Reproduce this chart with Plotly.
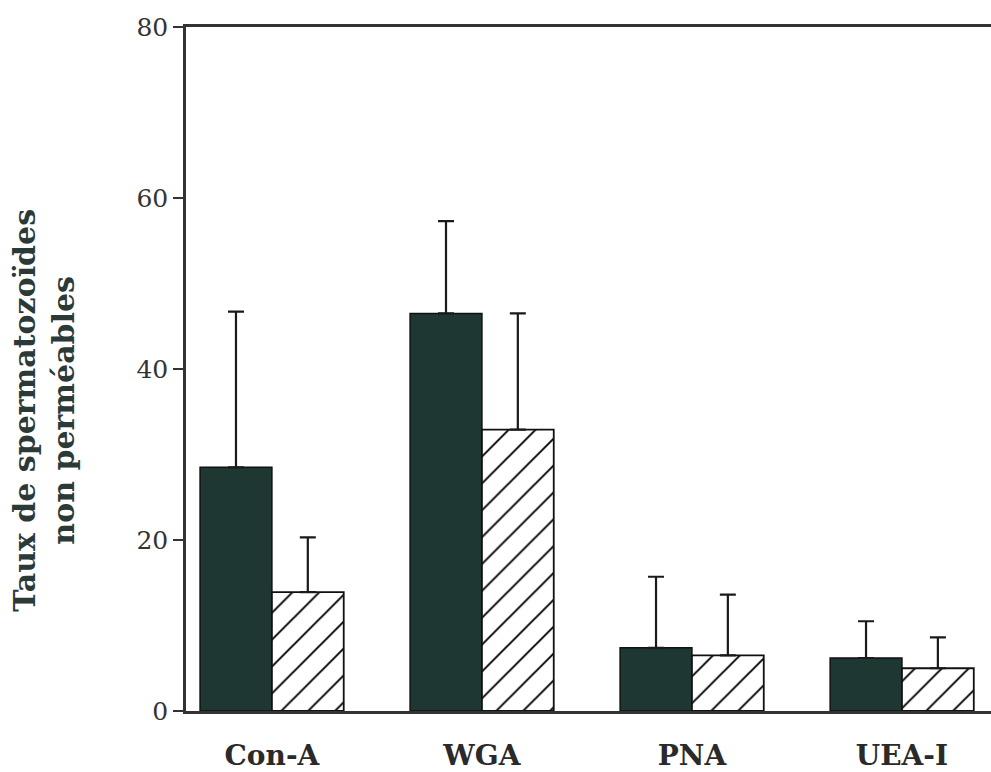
import plotly.graph_objects as go

categories = ["Con-A", "WGA", "PNA", "UEA-I"]
dark_values = [28.5, 46.5, 7.4, 6.2]
dark_err_top = [46.7, 57.3, 15.7, 10.5]
hatched_values = [13.9, 32.9, 6.5, 5.0]
hatched_err_top = [20.3, 46.5, 13.6, 8.6]
y_ticks = [0, 20, 40, 60, 80]

xpos = list(range(len(categories)))
bar_w = 0.342

dark_err = [t - v for t, v in zip(dark_err_top, dark_values)]
hatched_err = [t - v for t, v in zip(hatched_err_top, hatched_values)]

fig = go.Figure()
fig.add_trace(go.Bar(
    x=xpos, y=dark_values, width=bar_w, offset=-bar_w,
    marker=dict(color="#1f3733", line=dict(color="#111", width=1.5)),
    error_y=dict(type="data", symmetric=False, array=dark_err,
                 arrayminus=[0] * len(dark_err), color="#1a1a1a",
                 thickness=2.2, width=8),
    showlegend=False,
))
fig.add_trace(go.Bar(
    x=xpos, y=hatched_values, width=bar_w, offset=0,
    marker=dict(color="white", line=dict(color="#111", width=1.8),
                pattern=dict(shape="/", size=19, solidity=0.1,
                             fgcolor="#000", fgopacity=1, bgcolor="white",
                             fillmode="replace")),
    error_y=dict(type="data", symmetric=False, array=hatched_err,
                 arrayminus=[0] * len(hatched_err), color="#1a1a1a",
                 thickness=2.2, width=8),
    showlegend=False,
))

fig.update_layout(
    width=991, height=772,
    margin=dict(l=186, r=0, t=27, b=57),
    paper_bgcolor="white", plot_bgcolor="white",
    barmode="overlay",
    xaxis=dict(
        range=[-0.409, 3.424], tickvals=xpos, ticktext=categories,
        showline=True, mirror=True, linecolor="#333", linewidth=2.5,
        showgrid=False, zeroline=False, ticks="",
        tickfont=dict(family="DejaVu Serif", size=28, color="#2a2a2a", weight="bold"),
        ticklabelstandoff=18,
    ),
    yaxis=dict(
        range=[0, 80], tickvals=y_ticks,
        showline=True, linecolor="#333", linewidth=2.5,
        showgrid=False, zeroline=False,
        ticks="outside", ticklen=10, tickwidth=2, tickcolor="#333",
        tickfont=dict(family="DejaVu Serif", size=25, color="#333"),
    ),
    annotations=[dict(
        text="Taux de spermatozoïdes<br>non perméables",
        xref="paper", yref="paper", x=0, y=0.439, xshift=-142,
        xanchor="center", yanchor="middle", textangle=-90, showarrow=False,
        font=dict(family="DejaVu Serif", size=30, color="#2b3a37", weight="bold"),
    )],
)

fig.write_html(
    "out.html",
    config={"displayModeBar": False},
    post_script="document.body.style.margin='0';document.body.style.overflow='hidden';",
)
